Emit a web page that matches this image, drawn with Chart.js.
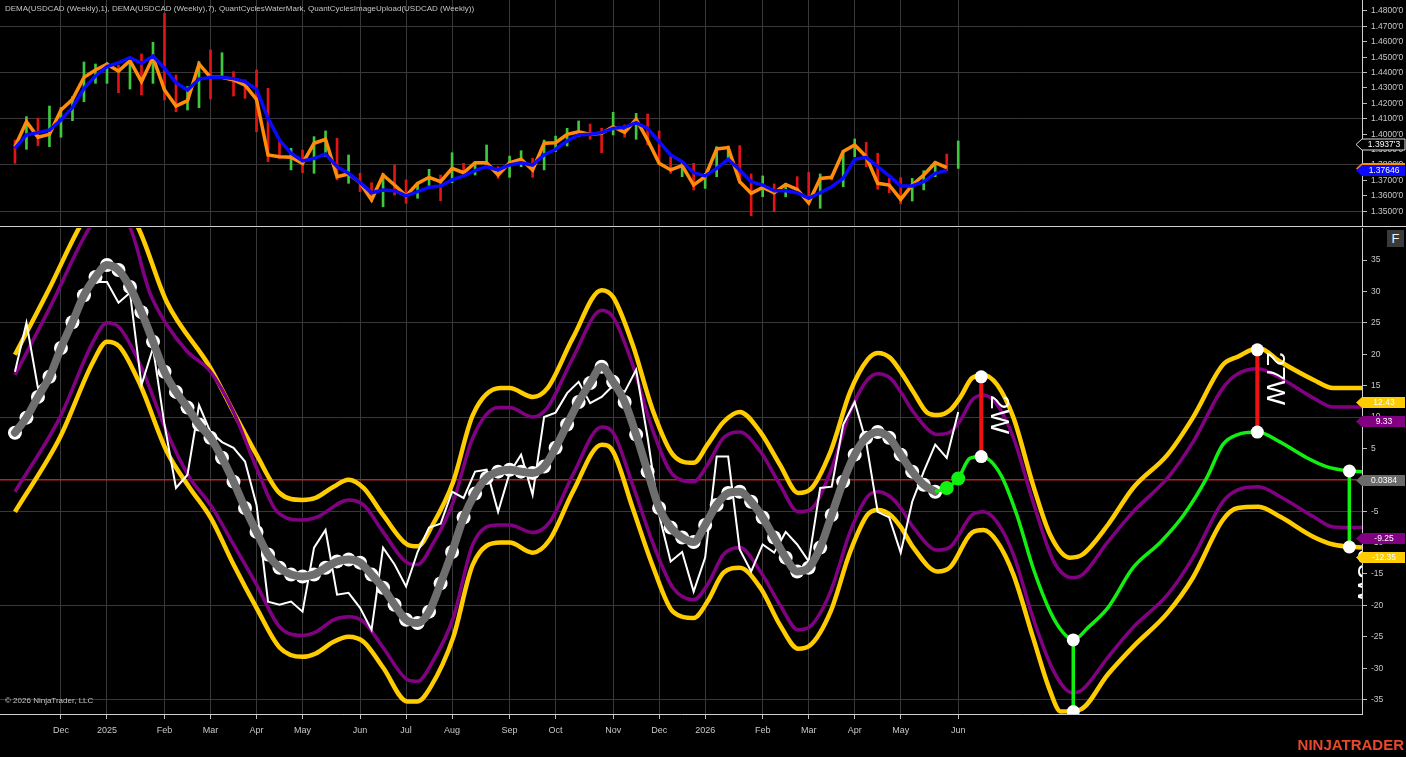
<!DOCTYPE html>
<html>
<head>
<meta charset="utf-8">
<script src="https://cdn.jsdelivr.net/npm/chart.js@4.4.1/dist/chart.umd.min.js"></script>
<style>
html,body{margin:0;padding:0;background:#000;}
body{width:1406px;height:757px;position:relative;overflow:hidden;font-family:"Liberation Sans",Arial,sans-serif;}
#topWrap{position:absolute;left:0;top:0;width:1406px;height:226px;}
#sep{position:absolute;left:0;top:226px;width:1406px;height:1px;background:#d0d0d0;}
#botWrap{position:absolute;left:0;top:227px;width:1406px;height:530px;}
.title{position:absolute;left:5px;top:4px;font-size:8px;line-height:10px;color:#c4c4c4;white-space:nowrap;}
.copy{position:absolute;left:5px;top:696px;font-size:8px;line-height:10px;color:#c4c4c4;white-space:nowrap;}
.fbtn{position:absolute;left:1387px;top:230px;width:17px;height:17px;background:#3a3a3a;color:#f0f0f0;font-size:13px;line-height:17px;text-align:center;}
.logo{position:absolute;right:2px;top:737px;font-size:15px;line-height:16px;font-weight:bold;color:#e8482c;}
</style>
</head>
<body>
<div id="topWrap"><canvas id="priceChart"></canvas></div>
<div id="sep"></div>
<div id="botWrap"><canvas id="cycleChart"></canvas></div>
<div class="title">DEMA(USDCAD (Weekly),1), DEMA(USDCAD (Weekly),7), QuantCyclesWaterMark, QuantCyclesImageUpload(USDCAD (Weekly))</div>
<div class="copy">© 2026 NinjaTrader, LLC</div>
<div class="fbtn">F</div>
<div class="logo">NINJATRADER</div>
<script>
// weekly bars, x = bar index (0 = first bar shown, late Oct 2024)
const monthTickIdx = [4, 8, 13, 17, 21, 25, 30, 34, 38, 43, 47, 52, 56, 60, 65, 69, 73, 77, 82];
const monthTickLbl = ['Dec', '2025', 'Feb', 'Mar', 'Apr', 'May', 'Jun', 'Jul', 'Aug', 'Sep', 'Oct', 'Nov', 'Dec', '2026', 'Feb', 'Mar', 'Apr', 'May', 'Jun'];

const priceTicks = [1.35, 1.36, 1.37, 1.38, 1.39, 1.40, 1.41, 1.42, 1.43, 1.44, 1.45, 1.46, 1.47, 1.48];
const priceGridTicks = [1.35, 1.38, 1.41, 1.44, 1.47];
const oscTicks = [-35, -30, -25, -20, -15, -10, -5, 0, 5, 10, 15, 20, 25, 30, 35];
const oscGridTicks = [-35, -20, -5, 10, 25];

// USDCAD weekly high / low, up(1) / down(0)
const priceHigh = [1.3962,1.4114,1.4103,1.4183,1.4174,1.4244,1.4469,1.4456,1.4464,1.4449,
  1.4486,1.4521,1.4597,1.4785,1.4384,1.4309,1.4471,1.4547,1.4529,1.4406,
  1.4352,1.4417,1.4298,1.3962,1.3908,1.3897,1.3984,1.4021,1.3973,1.3865,
  1.3746,1.3685,1.3746,1.3800,1.3703,1.3685,1.3772,1.3735,1.3880,1.3811,
  1.3822,1.3930,1.3789,1.3858,1.3893,1.3843,1.3962,1.3988,1.4038,1.4086,
  1.4066,1.4038,1.4142,1.4060,1.4135,1.4131,1.4021,1.3854,1.3822,1.3811,
  1.3746,1.3919,1.3923,1.3926,1.3742,1.3729,1.3677,1.3681,1.3724,1.3752,
  1.3742,1.3735,1.3891,1.3969,1.3947,1.3876,1.3713,1.3718,1.3713,1.3763,
  1.3822,1.3871,1.3956];
const priceLow = [1.3811,1.3902,1.3926,1.3919,1.3980,1.4088,1.4211,1.4330,1.4330,1.4270,
  1.4293,1.4255,1.4330,1.4222,1.4146,1.4157,1.4172,1.4229,1.4363,1.4248,
  1.4233,1.4016,1.3822,1.3843,1.3768,1.3750,1.3746,1.3854,1.3703,1.3681,
  1.3627,1.3562,1.3529,1.3605,1.3551,1.3584,1.3664,1.3568,1.3685,1.3724,
  1.3735,1.3789,1.3713,1.3720,1.3789,1.3720,1.3768,1.3887,1.3923,1.3984,
  1.3967,1.3880,1.3995,1.3980,1.3967,1.3930,1.3800,1.3746,1.3724,1.3638,
  1.3648,1.3724,1.3832,1.3681,1.3471,1.3594,1.3497,1.3594,1.3627,1.3547,
  1.3519,1.3703,1.3659,1.3854,1.3789,1.3642,1.3620,1.3547,1.3566,1.3638,
  1.3724,1.3763,1.3778];
const barUp = [0,1,0,1,1,1,1,1,1,0, 1,0,1,0,0,1,1,0,1,0, 0,0,0,0,1,0,1,1,0,1,
  0,0,1,0,0,1,1,0,1,0, 1,1,0,1,1,0,1,1,1,1, 0,0,1,0,1,0,0,0,1,0,
  1,1,1,0,0,1,0,1,0,0, 1,0,1,1,0,0,0,0,1,1, 1,0,1];
const lastClose = 1.39373;

// DEMA(1) (orange) and DEMA(7) (blue)
const dema1 = [1.3919,1.4081,1.3980,1.3999,1.4157,1.4226,1.4369,1.4417,1.4454,1.4410,
  1.4477,1.4341,1.4499,1.4287,1.4183,1.4218,1.4456,1.4369,1.4369,1.4352,
  1.4319,1.4226,1.3865,1.3854,1.3850,1.3811,1.3941,1.3967,1.3724,1.3742,
  1.3685,1.3573,1.3735,1.3670,1.3599,1.3681,1.3720,1.3692,1.3778,1.3750,
  1.3815,1.3815,1.3735,1.3815,1.3837,1.3768,1.3941,1.3945,1.3999,1.4016,
  1.3999,1.4006,1.4049,1.4012,1.4097,1.3962,1.3811,1.3768,1.3796,1.3670,
  1.3724,1.3904,1.3913,1.3692,1.3616,1.3655,1.3620,1.3674,1.3642,1.3555,
  1.3713,1.3720,1.3887,1.3930,1.3854,1.3681,1.3670,1.3577,1.3670,1.3735,
  1.3815,1.3783];
const dema7 = [1.3908,1.3995,1.4010,1.4027,1.4092,1.4174,1.4298,1.4378,1.4439,1.4464,
  1.4497,1.4460,1.4508,1.4428,1.4335,1.4287,1.4358,1.4369,1.4369,1.4361,
  1.4341,1.4291,1.4103,1.3962,1.3876,1.3826,1.3843,1.3871,1.3789,1.3746,
  1.3685,1.3620,1.3638,1.3633,1.3599,1.3627,1.3655,1.3664,1.3703,1.3729,
  1.3763,1.3789,1.3768,1.3800,1.3815,1.3800,1.3865,1.3902,1.3956,1.3995,
  1.3999,1.4010,1.4038,1.4045,1.4075,1.4038,1.3951,1.3865,1.3822,1.3750,
  1.3729,1.3778,1.3837,1.3768,1.3692,1.3670,1.3633,1.3633,1.3620,1.3584,
  1.3620,1.3659,1.3713,1.3837,1.3850,1.3789,1.3729,1.3664,1.3664,1.3692,
  1.3746,1.37646];

// cycle panel: raw oscillator (white) and smoothed cycle (grey)
const rawCycle = [17.2,25.0,14.6,16.4,21.0,25.1,29.4,31.5,31.5,28.2,
  29.8,15.1,21.0,8.8,-1.3,0.8,11.9,7.6,6.0,5.1,
  2.9,-4.0,-19.4,-19.9,-19.4,-21.0,-10.8,-8.0,-18.3,-18.0,
  -20.4,-23.9,-10.8,-13.5,-17.0,-11.5,-7.6,-7.0,-1.9,-2.9,
  1.3,1.6,-5.1,1.1,4.0,-2.4,10.0,10.7,13.8,15.6,
  12.2,13.2,15.0,14.0,17.5,6.7,-5.6,-13.0,-11.5,-17.8,
  -12.4,3.7,3.7,-11.1,-14.6,-10.3,-11.6,-8.3,-10.3,-13.0,
  -1.3,-1.1,8.8,12.4,6.0,-5.1,-6.0,-11.6,-3.5,1.3,
  5.6,3.5,10.8];
const smoothCycle = [7.5,9.9,13.2,16.4,21.0,25.1,29.4,32.3,34.2,33.4,
  30.7,26.7,22.0,17.2,14.0,11.5,8.8,6.7,3.5,-0.3,
  -4.5,-8.3,-11.9,-14.0,-15.1,-15.4,-15.1,-14.0,-13.0,-12.7,
  -13.2,-15.1,-17.2,-19.9,-22.3,-22.8,-21.0,-16.5,-11.5,-6.0,
  -2.2,0.3,1.3,1.6,1.3,1.1,2.1,5.1,8.8,12.4,
  15.4,18.0,15.6,12.4,7.2,1.3,-4.5,-7.6,-9.2,-9.9,
  -7.2,-4.0,-2.1,-1.9,-3.5,-6.0,-9.2,-12.4,-14.6,-14.0,
  -10.8,-5.6,-0.3,4.0,6.7,7.6,6.7,4.0,1.3,-0.8,
  -1.9];

// projected cycle (green) as [bar, value]
const projection = [[80,-1.9],[81,-1.3],[82,0.2],[83,3.4],[84,3.7],[85.7,0.8],[87.1,-5.6],[88.5,-14.0],
  [90,-21.0],[91.1,-24.3],[92,-25.5],[93.3,-23.5],[95,-20.4],[97.2,-14.0],[99.6,-9.9],[101.6,-5.6],
  [103.6,0.3],[105,5.6],[106.3,7.2],[108,7.6],[110,6.0],[112.3,3.5],[114,2.1],[116,1.4],[117.1,1.3]];
const projStartBeads = [[81,-1.3],[82,0.2]];

// bands as [bar, value]
const yellowUpper = [[0,19.9],[3,30.5],[5.6,40.2],[8,47],[10.7,40.2],[13.2,28.3],[17,17.8],[19,10.8],[21,4.0],
  [23,-2.1],[25,-3.2],[26.1,-2.9],[27.7,-1.1],[29,0.0],[30.3,-1.3],[32,-5.6],[34.1,-10.3],[35,-10.6],
  [36.3,-7.2],[38.1,-0.3],[39.8,10.3],[42.2,14.6],[43,14.6],[45,13.2],[46.3,14.6],[48.5,22.6],[51,30.2],
  [52,29.1],[53.7,21.5],[55.5,10.8],[57.2,4.0],[59,2.7],[60.2,5.6],[61.6,9.2],[63,10.8],[64.8,7.6],
  [66.5,2.4],[68.1,-2.1],[69.1,-1.6],[70.9,4.5],[72.6,14.0],[74.1,19.1],[75,20.2],[76.1,19.4],[77,17.2],
  [78.1,14.0],[79.3,10.7],[80.2,10.3],[81.3,11.1],[82.2,13.2],[83.2,16.2],[84.2,16.7],[85.4,15.1],
  [86.8,9.9],[88.5,-0.8],[90,-8.8],[91.7,-12.4],[92.8,-11.9],[95,-7.2],[97.2,-1.3],[100.2,4.0],
  [102.4,9.9],[105,18.3],[106.3,19.6],[108.1,21.0],[110,18.8],[112.9,15.9],[114.6,14.6],[117.1,14.6]];
const purpleUpper = [[0,16.7],[3,27.3],[6.5,40.2],[8,43.5],[10,40.2],[11.7,29.9],[13.2,24.7],[15,20.4],[17,17.2],
  [19,10.8],[21,1.9],[22.8,-5.1],[25,-6.4],[26.3,-5.9],[29,-3.2],[30.3,-4.0],[32,-8.3],[34.1,-13.2],
  [35,-13.5],[36.3,-10.3],[38.1,-3.5],[39.8,6.7],[42,11.5],[43,11.5],[45,10.0],[46.3,11.5],[48.5,19.4],
  [51,27.0],[52,25.9],[53.7,18.3],[55.5,7.6],[57.2,0.8],[59,-0.3],[60.2,2.4],[61.6,6.7],[63,7.6],
  [64.8,4.5],[66.5,-0.8],[68.1,-5.1],[69.1,-4.8],[70.9,1.3],[72.6,10.8],[74.1,15.9],[75,16.9],[76.1,16.2],
  [77,14.0],[78.1,10.8],[80.2,7.2],[81.3,7.6],[82.2,9.5],[83.2,12.7],[84.2,13.5],[85.4,11.9],[86.8,6.7],
  [88.5,-3.5],[90.3,-13.0],[91.9,-15.6],[92.8,-15.1],[95,-9.9],[97.2,-5.1],[100.2,0.3],[102.4,6.0],
  [105,14.6],[106.3,16.9],[108.1,17.7],[110,16.2],[112.9,13.0],[114.6,11.6],[117.1,11.6]];
const purpleLower = [[0,-1.9],[3.9,9.9],[6.8,22.0],[8,25.0],[9.1,24.2],[10.9,18.3],[13.2,7.6],[15.2,0.3],[17,-4.0],
  [19,-10.3],[21,-16.7],[23,-23.4],[25,-24.8],[26.1,-24.3],[27.7,-22.3],[29,-21.8],[30.3,-22.6],[32,-26.7],
  [34.1,-31.8],[35,-32.1],[36.3,-29.0],[38.1,-22.0],[39.8,-10.3],[42,-7.2],[43,-7.2],[45,-8.4],[46.5,-6.7],
  [48.5,0.8],[51,8.4],[52,7.5],[53.7,-0.8],[55.5,-10.3],[57.2,-17.2],[59,-19.1],[60.2,-16.7],[61.6,-11.9],
  [63,-10.8],[64.8,-14.6],[66.5,-19.9],[68.1,-23.9],[69.1,-23.4],[70.9,-17.8],[72.6,-8.3],[74.1,-2.7],
  [75,-1.9],[76.1,-2.7],[77,-4.5],[78.1,-7.6],[80.2,-11.2],[81.3,-10.7],[83.2,-5.6],[84.2,-5.1],[85.4,-6.8],
  [86.8,-11.9],[88.5,-22.0],[90.3,-30.5],[91.9,-33.9],[92.8,-33.4],[95,-28.3],[97.2,-23.5],[100.2,-18.3],
  [102.4,-12.4],[105,-3.5],[106.3,-1.6],[108.1,-1.1],[110,-2.7],[112.9,-5.9],[114.6,-7.5],[117.1,-7.6]];
const yellowLower = [[0,-5.1],[3.9,6.7],[6.8,18.8],[8,22.0],[9.1,21.2],[10.9,15.1],[13.2,4.5],[15.2,-1.3],[17,-6.0],
  [19,-13.5],[21,-20.4],[23,-26.7],[25,-28.2],[26.1,-27.7],[27.7,-25.8],[29,-25.0],[30.3,-25.8],[32,-29.9],
  [34.1,-35.3],[35,-35.3],[36.1,-33.1],[38.1,-25.1],[39.8,-13.5],[42.2,-10.0],[43,-10.0],[45,-11.6],
  [46.5,-9.5],[48.5,-1.9],[51,5.6],[52,4.5],[53.7,-4.5],[55.5,-14.0],[57.2,-21.0],[59,-22.0],[60.2,-19.4],
  [61.6,-14.8],[63,-14.0],[64.8,-17.2],[66.5,-23.1],[68.1,-26.9],[69.1,-26.4],[70.9,-21.0],[72.6,-11.5],
  [74.1,-5.6],[75,-4.8],[76.1,-5.6],[77,-7.5],[78.1,-10.8],[80.2,-14.6],[81.3,-13.9],[83.2,-8.4],[84.2,-8.0],
  [85.4,-9.9],[86.8,-15.1],[88.5,-25.1],[90,-33.7],[90.9,-36.9],[92.6,-36.6],[95,-31.0],[97.2,-26.6],
  [100.2,-21.2],[102.4,-15.6],[105,-6.4],[106.3,-4.5],[108.1,-4.3],[110,-5.9],[112.9,-9.1],[114.6,-10.3],[117.1,-10.8]];

// turning points: [bar, top, bottom]
const redSegments = [[84, 16.4, 3.7], [108, 20.7, 7.6]];
const greenSegments = [[92, -25.5, -36.9], [116, 1.4, -10.7]];
const cycleLabels = [{text: '2W', x: 85.5, y: 13.5}, {text: '27W', x: 109.5, y: 20.4}, {text: '33W', x: 117.4, y: -11.1}];
const bandLabels = [12.43, 9.33, 0.0384, -9.25, -12.35];

const xMin = -1.3, xMax = 117.1;
const FONT = '"Liberation Sans Narrow", "Liberation Sans", Arial, sans-serif';
Chart.defaults.font.family = FONT;
Chart.defaults.color = '#c8c8c8';

const pts = arr => arr.map(p => ({x: p[0], y: p[1]}));
const series = arr => arr.map((v, i) => ({x: i, y: v}));
const segData = segs => {
  const out = [];
  segs.forEach(s => { out.push({x: s[0], y: s[1]}, {x: s[0], y: s[2]}, {x: s[0], y: null}); });
  return out;
};

const axisMarkers = {
  id: 'axisMarkers',
  afterDraw(chart, args, opts) {
    const ctx = chart.ctx, y = chart.scales.y, left = chart.chartArea.right;
    ctx.save();
    ctx.font = '8.5px ' + FONT;
    ctx.textAlign = 'center';
    ctx.textBaseline = 'middle';
    opts.items.forEach(m => {
      const py = Math.round(y.getPixelForValue(m.value)) + 0.5;
      ctx.beginPath();
      ctx.moveTo(left - 6, py);
      ctx.lineTo(left, py - 5.5);
      ctx.lineTo(left + 43, py - 5.5);
      ctx.lineTo(left + 43, py + 5.5);
      ctx.lineTo(left, py + 5.5);
      ctx.closePath();
      ctx.fillStyle = m.fill;
      ctx.fill();
      if (m.stroke) { ctx.strokeStyle = m.stroke; ctx.lineWidth = 1; ctx.stroke(); }
      ctx.fillStyle = '#ffffff';
      ctx.fillText(m.text, left + 22, py + 0.5);
    });
    ctx.restore();
  }
};

const zeroLine = {
  id: 'zeroLine',
  beforeDatasetsDraw(chart) {
    const {ctx, chartArea: a, scales: {y}} = chart;
    const py = y.getPixelForValue(0);
    ctx.save();
    ctx.strokeStyle = '#b42222';
    ctx.lineWidth = 1.5;
    ctx.beginPath();
    ctx.moveTo(a.left, py);
    ctx.lineTo(a.right, py);
    ctx.stroke();
    ctx.restore();
  }
};

const rotatedLabels = {
  id: 'rotatedLabels',
  afterDatasetsDraw(chart) {
    const {ctx, chartArea: a, scales: {x, y}} = chart;
    ctx.save();
    ctx.beginPath();
    ctx.rect(a.left, a.top, a.right - a.left, a.bottom - a.top);
    ctx.clip();
    ctx.fillStyle = '#ffffff';
    ctx.font = '26px "Liberation Sans", Arial, sans-serif';
    ctx.textAlign = 'left';
    ctx.textBaseline = 'middle';
    cycleLabels.forEach(l => {
      ctx.save();
      ctx.translate(x.getPixelForValue(l.x), y.getPixelForValue(l.y));
      ctx.rotate(Math.PI / 2);
      ctx.fillText(l.text, 0, 0);
      ctx.restore();
    });
    ctx.restore();
  }
};

const monthAxis = (showLabels, height) => ({
  type: 'linear', min: xMin, max: xMax, bounds: 'data', offset: false,
  afterBuildTicks: ax => { ax.ticks = monthTickIdx.map(v => ({value: v})); },
  afterFit: ax => { ax.height = height; ax.paddingLeft = 0; ax.paddingRight = 0; },
  ticks: {
    display: showLabels, autoSkip: false, maxRotation: 0, padding: 6,
    font: {size: 9}, color: '#c8c8c8',
    callback: v => monthTickLbl[monthTickIdx.indexOf(v)]
  },
  grid: {color: '#383838', drawTicks: showLabels, tickLength: 5, tickColor: '#bbbbbb', offset: false},
  border: {display: showLabels, color: '#d0d0d0'}
});

const valueAxis = (min, max, ticks, gridTicks, fmt) => ({
  position: 'right', min: min, max: max, bounds: 'data',
  afterBuildTicks: ax => { ax.ticks = ticks.map(v => ({value: v})); },
  afterFit: ax => { ax.width = 44; ax.paddingTop = 0; ax.paddingBottom = 0; },
  ticks: {autoSkip: false, padding: 4, font: {size: 8.5}, color: '#c8c8c8', callback: fmt},
  grid: {
    color: c => gridTicks.some(g => Math.abs(g - c.tick.value) < 1e-6) ? '#383838' : 'rgba(0,0,0,0)',
    tickColor: '#bbbbbb', tickLength: 5
  },
  border: {display: true, color: '#d0d0d0'}
});

const common = {
  responsive: true, maintainAspectRatio: false, animation: false, events: []
};

new Chart(document.getElementById('priceChart'), {
  type: 'line',
  plugins: [axisMarkers],
  data: {
    datasets: [
      {type: 'line', label: 'DEMA 7', data: series(dema7), borderColor: '#0a0aff', borderWidth: 3.5,
        pointRadius: 0, tension: 0, order: 1},
      {type: 'line', label: 'DEMA 1', data: series(dema1), borderColor: '#ff8c0a', borderWidth: 3.5,
        pointRadius: 0, tension: 0, order: 2},
      {type: 'bar', label: 'USDCAD', data: priceHigh.map((h, i) => ({x: i, y: [priceLow[i], h]})),
        backgroundColor: barUp.map(u => u ? '#3ec93e' : '#e41414'), barThickness: 2, borderWidth: 0, order: 3}
    ]
  },
  options: Object.assign({}, common, {
    layout: {padding: 0, autoPadding: false},
    plugins: {
      legend: {display: false}, tooltip: {enabled: false},
      axisMarkers: {items: [
        {value: lastClose, fill: '#000000', stroke: '#d8d8d8', text: "1.3937'3"},
        {value: dema1[dema1.length - 1], fill: '#ff8c0a', text: dema1[dema1.length - 1].toFixed(5)},
        {value: dema7[dema7.length - 1], fill: '#0a0aff', text: dema7[dema7.length - 1].toFixed(5)}
      ]}
    },
    scales: {
      x: monthAxis(false, 0),
      y: valueAxis(1.34039, 1.48714, priceTicks, priceGridTicks, v => v.toFixed(4) + "'0")
    }
  })
});

new Chart(document.getElementById('cycleChart'), {
  type: 'line',
  plugins: [zeroLine, rotatedLabels, axisMarkers],
  data: {
    datasets: [
      {label: 'Upper band 2', data: pts(yellowUpper), borderColor: '#ffcc00', borderWidth: 4.5, pointRadius: 0, cubicInterpolationMode: 'monotone', order: 20},
      {label: 'Upper band 1', data: pts(purpleUpper), borderColor: '#820082', borderWidth: 3.5, pointRadius: 0, cubicInterpolationMode: 'monotone', order: 19},
      {label: 'Lower band 1', data: pts(purpleLower), borderColor: '#820082', borderWidth: 3.5, pointRadius: 0, cubicInterpolationMode: 'monotone', order: 18},
      {label: 'Lower band 2', data: pts(yellowLower), borderColor: '#ffcc00', borderWidth: 4.5, pointRadius: 0, cubicInterpolationMode: 'monotone', order: 17},
      {label: 'Raw', data: series(rawCycle), borderColor: '#ffffff', borderWidth: 2, pointRadius: 0, tension: 0, order: 16},
      {label: 'Cycle beads', data: series(smoothCycle), showLine: false, pointRadius: 7, pointBorderWidth: 0,
        pointBackgroundColor: '#ffffff', order: 15},
      {label: 'Cycle', data: series(smoothCycle), borderColor: '#6e6e6e', borderWidth: 8, pointRadius: 0,
        cubicInterpolationMode: 'monotone', borderCapStyle: 'round', order: 14},
      {label: 'Projection', data: pts(projection), borderColor: '#12f012', borderWidth: 3.5, pointRadius: 0,
        cubicInterpolationMode: 'monotone', order: 13},
      {label: 'Projection beads', data: pts(projStartBeads), showLine: false, pointRadius: 7, pointBorderWidth: 0,
        pointBackgroundColor: '#12f012', order: 12},
      {label: 'Highs', data: segData(redSegments), borderColor: '#ee1111', borderWidth: 4, pointRadius: 0, spanGaps: false, order: 11},
      {label: 'Lows', data: segData(greenSegments), borderColor: '#12f012', borderWidth: 3.5, pointRadius: 0, spanGaps: false, order: 10},
      {label: 'Turns', data: redSegments.concat(greenSegments).flatMap(s => [{x: s[0], y: s[1]}, {x: s[0], y: s[2]}]),
        showLine: false, pointRadius: 6.5, pointBorderWidth: 0, pointBackgroundColor: '#ffffff', order: 9}
    ]
  },
  options: Object.assign({}, common, {
    layout: {padding: {top: 1}, autoPadding: false},
    plugins: {
      legend: {display: false}, tooltip: {enabled: false},
      axisMarkers: {items: [
        {value: bandLabels[0], fill: '#ffcc00', text: '12.43'},
        {value: bandLabels[1], fill: '#820082', text: '9.33'},
        {value: bandLabels[2], fill: '#6b6b6b', text: '0.0384'},
        {value: bandLabels[3], fill: '#820082', text: '-9.25'},
        {value: bandLabels[4], fill: '#ffcc00', text: '-12.35'}
      ]}
    },
    scales: {
      x: monthAxis(true, 43),
      y: valueAxis(-37.3, 40.1, oscTicks, oscGridTicks, v => String(v))
    }
  })
});
</script>
</body>
</html>
